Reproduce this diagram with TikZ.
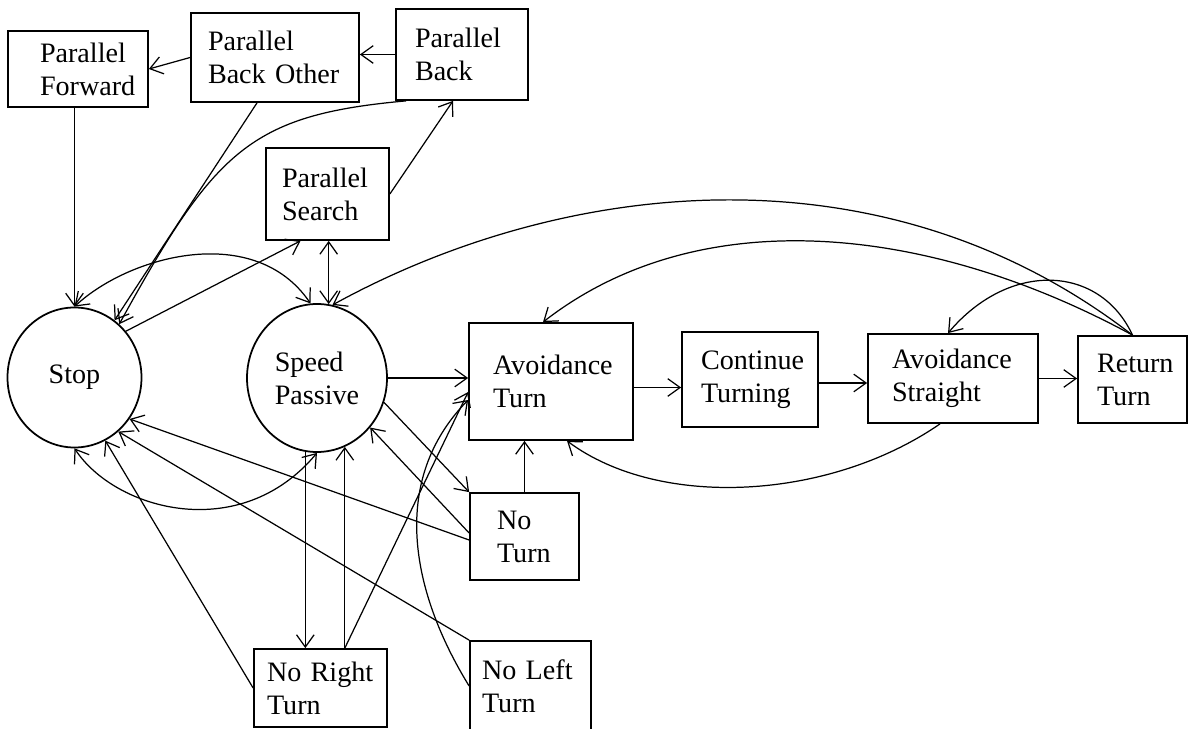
\documentclass[tikz,border=0pt]{standalone}
\usepackage{fontspec}
\setmainfont{Liberation Serif}
\usetikzlibrary{shapes.geometric, calc, arrows.meta}

\newcommand{\statefont}{\fontsize{16}{18.8}\selectfont}

\begin{document}
\begin{tikzpicture}[x=0.2mm, y=-0.2mm,
    >={Straight Barb[length=7pt, width=10pt]},
    statebox/.style={draw, rectangle, line width=1pt, align=left, inner sep=1pt, font=\statefont},
    statecircle/.style={draw, ellipse, line width=1pt, align=left, inner sep=1pt, font=\statefont},
    link/.style={line width=0.7pt}]

    % one unit = one pixel of the sheet
    \def\u{0.2mm}
    \useasboundingbox (0,0) rectangle (1188,729);

    % Parallel states
    \node[statebox, minimum width=140*\u, minimum height=76*\u, text width=76*\u]  (pf)  at (78,69)      {Parallel\\Forward};
    \node[statebox, minimum width=168*\u, minimum height=89*\u, text width=134*\u] (pbo) at (275,57.5)   {Parallel\\Back~Other};
    \node[statebox, minimum width=132*\u, minimum height=91*\u, text width=94*\u]  (pb)  at (462,54.5)   {Parallel\\Back};
    \node[statebox, minimum width=123*\u, minimum height=92*\u, text width=91*\u]  (ps)  at (327.5,194)  {Parallel\\Search};

    % Stop and speed
    \node[statecircle, minimum width=134*\u, minimum height=140*\u] (stop) at (74.5,377.5) {Stop};
    \node[statecircle, minimum width=140*\u, minimum height=148*\u] (sp)   at (317,378)    {Speed\\Passive};

    % Avoidance chain
    \node[statebox, minimum width=164*\u, minimum height=117*\u, text width=116*\u] (at) at (551,381.5)    {Avoidance\\Turn};
    \node[statebox, minimum width=136*\u, minimum height=95*\u,  text width=98*\u]  (ct) at (750,379.5)    {Continue\\Turning};
    \node[statebox, minimum width=170*\u, minimum height=89*\u,  text width=122*\u] (as) at (953,378.5)    {Avoidance\\Straight};
    \node[statebox, minimum width=109*\u, minimum height=87*\u,  text width=71*\u]  (rt) at (1132.5,379.5) {Return\\Turn};

    % Turn checks
    \node[statebox, minimum width=109*\u, minimum height=87*\u, text width=55*\u]  (nt)  at (524.5,536.5) {No\\Turn};
    \node[statebox, minimum width=133*\u, minimum height=78*\u, text width=107*\u] (nrt) at (320.5,688)   {No~Right\\Turn};
    \node[statebox, minimum width=121*\u, minimum height=90*\u, text width=97*\u]  (nlt) at (530.5,686)   {No~Left\\Turn};

    % Parallel branch
    \draw[link, ->] (pb.west) -- (pb.west -| pbo.east);
    \draw[link, ->] (pbo.west) -- (pf.east);
    \draw[link, ->] (stop.north |- pf.south) -- (stop.north);
    \draw[link, ->] ($(pbo.south)+(-18,0)$) -- (stop.55);
    \draw[link, ->] ($(pb.south west)+(11,0)$) .. controls (250,115) and (215,150) .. (stop.50);
    \draw[link, ->] (stop.42) -- ($(ps.south)+(-27,0)$);
    \draw[link, ->] (ps.east) -- ($(pb.south)+(-9,0)$);
    \draw[link, <->] (sp.81 |- ps.south) -- (sp.81);

    % Stop <-> Speed Passive
    \draw[link, <->] (stop.north) .. controls (130,255) and (255,222) .. (sp.95);
    \draw[link, <->] (stop.south) .. controls (115,510) and (240,545) .. (sp.south);

    % Avoidance chain
    \draw[link, ->] (sp.east) -- (sp.east -| at.west);
    \draw[link, ->] ($(at.east)+(0,6)$) -- ($(ct.west)+(0,8)$);
    \draw[link, ->] ($(ct.east)+(0,3.5)$) -- ($(as.west)+(0,4.5)$);
    \draw[link, ->] (as.east) -- (as.east -| rt.west);
    \draw[link, ->] ($(as.south)+(-13,0)$) .. controls (830,500) and (660,510) .. ($(at.south)+(16,0)$);

    % Return Turn
    \draw[link, ->] (rt.north) .. controls (880,140) and (560,180) .. (sp.78);
    \draw[link, ->] (rt.north) .. controls (930,225) and (700,200) .. ($(at.north)+(-8,0)$);
    \draw[link, ->] (rt.north) .. controls (1100,265) and (1010,260) .. ($(as.north)+(-5,0)$);

    % Turn checks
    \draw[link, ->] (sp.-20) -- (nt.north west);
    \draw[link, ->] ($(nt.west)+(0,-3.5)$) -- (sp.-43);
    \draw[link, ->] ($(nt.west)+(0,3.5)$) -- (stop.-37);
    \draw[link, ->] (nt.north) -- (nt.north |- at.south);
    \draw[link, ->] (sp.-99) -- (sp.-99 |- nrt.north);
    \draw[link, ->] (sp.-68 |- nrt.north) -- (sp.-68);
    \draw[link, ->] (sp.-68 |- nrt.north) -- ($(at.west)+(0,10.5)$);
    \draw[link, ->] (nrt.west) -- (stop.-64);
    \draw[link, ->] (nlt.north west) -- (stop.-51);
    \draw[link, ->] (nlt.west) .. controls (410,590) and (390,480) .. ($(at.west)+(0,18.5)$);

\end{tikzpicture}
\end{document}
